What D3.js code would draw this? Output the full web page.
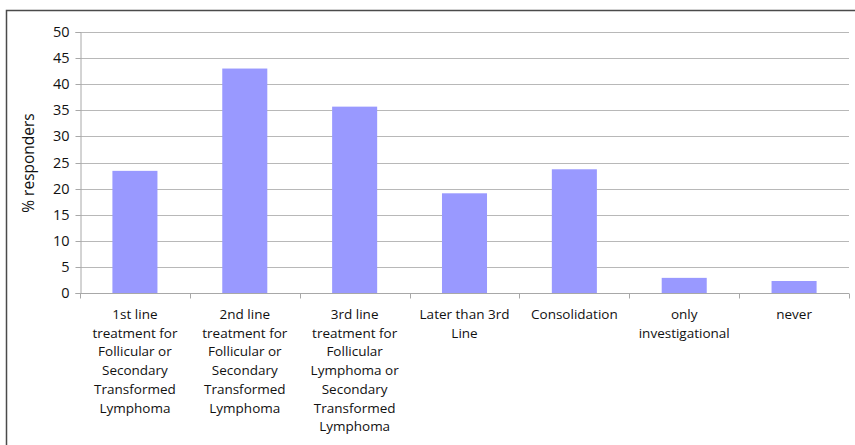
<!DOCTYPE html>
<html>
<head>
<meta charset="utf-8">
<script src="https://cdn.jsdelivr.net/npm/d3@7"></script>
<style>
  html, body { margin: 0; padding: 0; background: #fff; }
  svg { display: block; }
  text { font-family: "Open Sans", "Noto Sans", sans-serif; fill: #111; }
</style>
</head>
<body>
<svg id="chart" width="855" height="445"></svg>
<script>
// Share of responders by line of therapy
const categories = [
  ["1st line", "treatment for", "Follicular or", "Secondary", "Transformed", "Lymphoma"],
  ["2nd line", "treatment for", "Follicular or", "Secondary", "Transformed", "Lymphoma"],
  ["3rd line", "treatment for", "Follicular", "Lymphoma or", "Secondary", "Transformed", "Lymphoma"],
  ["Later than 3rd", "Line"],
  ["Consolidation"],
  ["only", "investigational"],
  ["never"]
];
const values = [23.4, 43.0, 35.7, 19.1, 23.7, 2.9, 2.3];
const yTicks = [0, 5, 10, 15, 20, 25, 30, 35, 40, 45, 50];
const yLabel = "% responders";

const svg = d3.select("#chart");
const W = 855, H = 445;
const m = { left: 80, right: 6, top: 32, bottom: 152 };
const plotW = 849 - m.left;
const plotH = 293 - m.top;

// outer frame
svg.append("rect")
  .attr("x", 6.5).attr("y", 10.5)
  .attr("width", W + 10).attr("height", H + 10)
  .attr("fill", "none").attr("stroke", "#4a4a4a").attr("stroke-width", 1.5);

const g = svg.append("g").attr("transform", `translate(${m.left},${m.top})`);

const x = d3.scaleBand().domain(d3.range(categories.length)).range([0, plotW]).paddingInner(0).paddingOuter(0);
const y = d3.scaleLinear().domain([0, 50]).range([plotH, 0]);

// horizontal gridlines
g.append("g").selectAll("line").data(yTicks.filter(t => t > 0)).join("line")
  .attr("x1", 0).attr("x2", plotW)
  .attr("y1", d => Math.round(y(d)) + 0.5).attr("y2", d => Math.round(y(d)) + 0.5)
  .attr("stroke", "#b8b8b8").attr("stroke-width", 1.2);

// y axis
const yAxis = g.append("g")
  .attr("transform", "translate(0.5,0)")
  .call(d3.axisLeft(y).tickValues(yTicks).tickSize(5).tickPadding(6));
yAxis.select(".domain").attr("stroke", "#a8a8a8");
yAxis.selectAll(".tick line").attr("stroke", "#a8a8a8");
yAxis.selectAll(".tick text").attr("font-size", 14.5).attr("fill", "#111")
  .attr("font-family", "'Open Sans', sans-serif");
yAxis.selectAll(".tick").attr("transform", d => `translate(0,${Math.round(y(d)) + 0.5})`);

// x axis with ticks at band boundaries
const xAxisG = g.append("g").attr("transform", `translate(0,${plotH + 0.5})`);
xAxisG.append("line").attr("x1", 0).attr("x2", plotW).attr("stroke", "#a8a8a8");
xAxisG.selectAll("line.tk").data(d3.range(categories.length + 1)).join("line")
  .attr("class", "tk")
  .attr("x1", i => Math.round(i * x.step()) + 0.5).attr("x2", i => Math.round(i * x.step()) + 0.5)
  .attr("y1", 0).attr("y2", 5)
  .attr("stroke", "#a8a8a8");

// bars
const barW = x.bandwidth() * 0.41;
g.append("g").selectAll("rect").data(values).join("rect")
  .attr("x", (d, i) => x(i) + (x.bandwidth() - barW) / 2)
  .attr("y", d => y(d))
  .attr("width", barW)
  .attr("height", d => plotH - y(d))
  .attr("fill", "#9999ff");

// category labels
const lab = g.append("g").selectAll("text").data(categories).join("text")
  .attr("text-anchor", "middle")
  .attr("font-size", 13.5)
  .attr("transform", (d, i) => `translate(${x(i) + x.bandwidth() / 2},${plotH + 26})`);
lab.selectAll("tspan").data(d => d).join("tspan")
  .attr("x", 0).attr("dy", (d, i) => i === 0 ? 0 : 18.7)
  .text(d => d);

// y axis title
svg.append("text")
  .attr("transform", "translate(34,163) rotate(-90)")
  .attr("text-anchor", "middle")
  .attr("font-size", 15.5)
  .text(yLabel);
</script>
</body>
</html>
